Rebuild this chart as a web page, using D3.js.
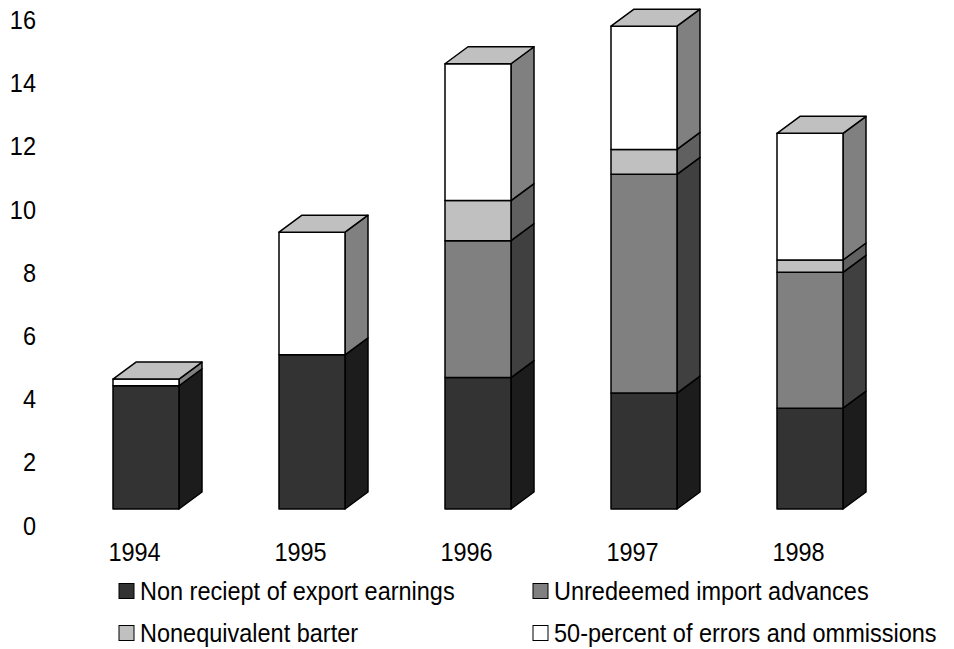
<!DOCTYPE html>
<html>
<head>
<meta charset="utf-8">
<script src="https://cdn.jsdelivr.net/npm/d3@7/dist/d3.min.js"></script>
<style>
  html, body { margin: 0; padding: 0; background: #fff; }
  svg { display: block; font-family: "Liberation Sans", Arial, sans-serif; }
</style>
</head>
<body>
<svg id="chart" width="954" height="649"></svg>
<script>
// Capital flight components, 1994-1998
const years = ["1994", "1995", "1996", "1997", "1998"];
const exportEarnings = [3.90, 4.88, 4.16, 3.67, 3.19];
const importAdvances = [0, 0, 4.33, 6.92, 4.30];
const barter = [0, 0, 1.27, 0.79, 0.39];
const errorsHalf = [0.21, 3.88, 4.33, 3.90, 4.01];
const seriesNames = [
  "Non reciept of export earnings",
  "Unredeemed import advances",
  "Nonequivalent barter",
  "50-percent of errors and ommissions"
];
const yTicks = [0, 2, 4, 6, 8, 10, 12, 14, 16];

// front / side / top shades per series
const fronts = ["#333333", "#808080", "#c0c0c0", "#ffffff"];
const sides = ["#1c1c1c", "#404040", "#606060", "#808080"];
const tops = ["#1c1c1c", "#606060", "#999999", "#c0c0c0"];

const keys = ["exp", "imp", "bar", "err"];
const rows = years.map((y, i) => ({
  year: y, exp: exportEarnings[i], imp: importAdvances[i], bar: barter[i], err: errorsHalf[i]
}));
const stacked = d3.stack().keys(keys)(rows);

const svg = d3.select("#chart");
const depthX = 23, depthY = 17;
const fontSize = 25, squeeze = 0.94;

const x = d3.scaleBand().domain(years).range([63, 893]).padding(0);
const barW = 66;
const y = d3.scaleLinear().domain([0, 16]).range([509, 509 - 16 * 31.6]);

// value axis labels (no axis line), sitting on the front floor plane
const yAxis = d3.axisLeft(y).tickValues(yTicks).tickSize(0).tickPadding(0);
const gy = svg.append("g").attr("transform", `translate(36, ${depthY})`).call(yAxis);
gy.select(".domain").remove();
gy.selectAll("text").attr("font-size", fontSize).attr("fill", "#000")
  .attr("font-family", "'Liberation Sans', Arial, sans-serif")
  .attr("transform", `scale(${squeeze},1)`);

// category labels
const xAxis = d3.axisBottom(x).tickSize(0).tickPadding(0);
const gx = svg.append("g").attr("transform", `translate(${-depthX / 2}, 543)`).call(xAxis);
gx.select(".domain").remove();
gx.selectAll("text").attr("font-size", fontSize).attr("fill", "#000")
  .attr("font-family", "'Liberation Sans', Arial, sans-serif")
  .attr("transform", `scale(${squeeze},1)`);

// 3D stacked columns
const bars = svg.append("g").attr("stroke", "#000").attr("stroke-width", 1.5).attr("stroke-linejoin", "round");
years.forEach((yr, i) => {
  const cx = x(yr) + x.bandwidth() / 2;
  const x0 = cx - barW / 2, x1 = cx + barW / 2;
  const g = bars.append("g");
  let lastIdx = -1;
  stacked.forEach((s, k) => { if (s[i][1] - s[i][0] > 0) lastIdx = k; });
  stacked.forEach((s, k) => {
    const v0 = s[i][0], v1 = s[i][1];
    if (v1 - v0 <= 0) return;
    const yb = y(v0), yt = y(v1);
    g.append("polygon")
      .attr("points", [[x1, yb], [x1 + depthX, yb - depthY], [x1 + depthX, yt - depthY], [x1, yt]].join(" "))
      .attr("fill", sides[k]);
    g.append("rect")
      .attr("x", x0).attr("y", yt).attr("width", barW).attr("height", yb - yt)
      .attr("fill", fronts[k]);
    if (k === lastIdx) {
      g.append("polygon")
        .attr("points", [[x0, yt], [x1, yt], [x1 + depthX, yt - depthY], [x0 + depthX, yt - depthY]].join(" "))
        .attr("fill", tops[k]);
    }
  });
});

// legend
const legendPos = [[119, 591], [533, 591], [119, 633], [533, 633]];
const legend = svg.append("g");
seriesNames.forEach((name, k) => {
  const [lx, ly] = legendPos[k];
  legend.append("rect")
    .attr("x", lx).attr("y", ly - 7.5).attr("width", 15).attr("height", 15)
    .attr("fill", fronts[k]).attr("stroke", "#000").attr("stroke-width", 1);
  legend.append("text")
    .attr("transform", `translate(${lx + 21}, ${ly + 9}) scale(${squeeze},1)`)
    .attr("font-size", fontSize).attr("fill", "#000")
    .text(name);
});
</script>
</body>
</html>
